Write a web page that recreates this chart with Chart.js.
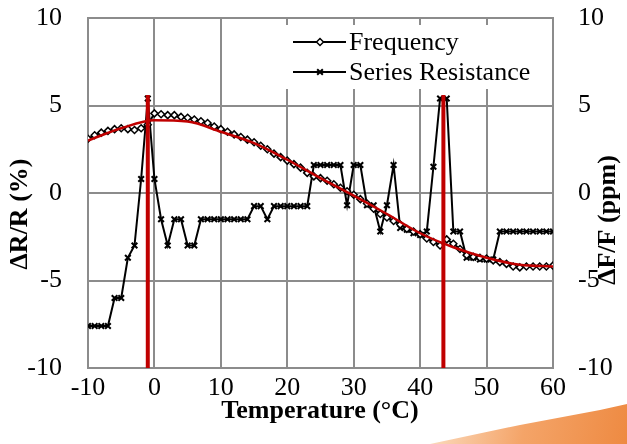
<!DOCTYPE html>
<html lang="en">
<head>
<meta charset="UTF-8">
<title>ΔR/R and ΔF/F vs Temperature</title>
<script src="https://cdn.jsdelivr.net/npm/chart.js"></script>
<style>
  html, body { margin: 0; padding: 0; background: #fff; }
  #wrap { position: relative; width: 627px; height: 444px; overflow: hidden; }
  #swoosh {
    position: absolute; left: 0; top: 0; width: 627px; height: 444px;
    background: linear-gradient(100deg, rgba(255,255,255,0) 66%, #fbd9bb 72%, #f4a468 85%, #ee8a42 100%);
    clip-path: polygon(430px 444px, 520px 425px, 600px 410px, 627px 404px, 627px 444px);
  }
  canvas { position: absolute; left: 0; top: 0; }
</style>
</head>
<body>
<div id="wrap">
  <div id="swoosh"></div>
  <canvas id="chart" width="627" height="444"></canvas>
</div>

<script>
// temperatures (°C) shared by both measured series
const temps = [-10, -9, -8, -7, -6, -5, -4, -3, -2, -1, 0, 1, 2, 3, 4, 5, 6, 7, 8, 9,
  10, 11, 12, 13, 14, 15, 16, 17, 18, 19, 20, 21, 22, 23, 24, 25, 26, 27, 28, 29,
  30, 31, 32, 33, 34, 35, 36, 37, 38, 39, 40, 41, 42, 43, 44, 45, 46, 47, 48, 49,
  50, 51, 52, 53, 54, 55, 56, 57, 58, 59, 60];

// ΔF/F (ppm), right axis
const frequency = [3.1, 3.3, 3.45, 3.55, 3.65, 3.7, 3.65, 3.6, 3.7, 3.9,
  4.55, 4.5, 4.45, 4.45, 4.35, 4.3, 4.2, 4.1, 4.0, 3.8,
  3.65, 3.5, 3.35, 3.2, 3.05, 2.9, 2.7, 2.5, 2.25, 2.05,
  1.85, 1.65, 1.45, 1.15, 0.95, 0.85, 0.7, 0.5, 0.3, 0.1,
  -0.1, -0.35, -0.6, -0.9, -1.2, -1.4, -1.6, -1.8, -2.05, -2.2,
  -2.35, -2.6, -2.8, -3.0, -2.65, -2.9, -3.2, -3.55, -3.65, -3.7,
  -3.75, -3.85, -3.95, -4.05, -4.2, -4.25, -4.2, -4.2, -4.2, -4.2, -4.15];

// ΔR/R (%), left axis
const resistance = [-7.6, -7.6, -7.6, -7.6, -6.0, -6.0, -3.7, -3.0, 0.8, 5.4,
  0.8, -1.5, -3.0, -1.5, -1.5, -3.0, -3.0, -1.5, -1.5, -1.5,
  -1.5, -1.5, -1.5, -1.5, -1.5, -0.75, -0.75, -1.5, -0.75, -0.75,
  -0.75, -0.75, -0.75, -0.75, 1.6, 1.6, 1.6, 1.6, 1.6, -0.7,
  1.6, 1.6, -0.7, -0.7, -2.2, -0.7, 1.6, -2.0, -2.1, -2.3,
  -2.4, -2.2, 1.5, 5.4, 5.4, -2.2, -2.2, -3.7, -3.7, -3.8,
  -3.8, -3.8, -2.2, -2.2, -2.2, -2.2, -2.2, -2.2, -2.2, -2.2, -2.2];

// red trend curve through the frequency data
const fitTemps = [-10, -5, 0, 5, 10, 15, 20, 25, 30, 35, 40, 45, 50, 55, 60];
const fitValues = [3.0, 3.7, 4.15, 4.08, 3.5, 2.85, 1.9, 0.85, -0.15, -1.2, -2.3, -3.1, -3.7, -4.1, -4.2];

// red vertical markers (temperature, top value)
const markerTemps = [-1, 43.5];
const markerTop = 5.6;
const markerBottom = -10;

const seriesNames = ['Frequency', 'Series Resistance'];
const xTitle = 'Temperature (°C)';
const yTitle = 'ΔR/R (%)';
const y2Title = 'ΔF/F (ppm)';

const gridGray = '#8c8c8c';
const red = '#c00000';
const serif = "'Liberation Serif', 'Times New Roman', serif";

Chart.defaults.font.family = serif;
Chart.defaults.font.size = 26;
Chart.defaults.color = '#000';

function pairs(xs, ys) {
  return xs.map((x, i) => ({ x: x, y: ys[i] }));
}

// legend box drawn inside the plot, top right
const insideLegend = {
  id: 'insideLegend',
  afterDraw(chart) {
    const ctx = chart.ctx;
    ctx.save();
    ctx.fillStyle = '#fff';
    ctx.fillRect(282, 25, 266, 64);
    const rows = [42, 72];
    rows.forEach((y, i) => {
      ctx.strokeStyle = '#000';
      ctx.lineWidth = 2;
      ctx.beginPath();
      ctx.moveTo(293, y);
      ctx.lineTo(346, y);
      ctx.stroke();
      const style = i === 0 ? 'rectRot' : 'crossRot';
      ctx.fillStyle = '#fff';
      ctx.lineWidth = i === 0 ? 1.5 : 2;
      Chart.helpers.drawPoint(ctx, { pointStyle: style, radius: i === 0 ? 3.5 : 4, borderWidth: ctx.lineWidth }, 320, y);
      ctx.fillStyle = '#000';
      ctx.font = '26px ' + serif;
      ctx.textBaseline = 'middle';
      ctx.textAlign = 'left';
      ctx.fillText(seriesNames[i], 349, y + 1);
    });
    ctx.restore();
  }
};

// axis titles, both vertical ones read bottom to top
const axisTitles = {
  id: 'axisTitles',
  afterDraw(chart) {
    const ctx = chart.ctx;
    ctx.save();
    ctx.fillStyle = '#000';
    ctx.font = 'bold 26px ' + serif;
    ctx.textAlign = 'center';
    ctx.textBaseline = 'middle';
    ctx.fillText(xTitle, 320, 411);

    ctx.save();
    ctx.translate(20, 214);
    ctx.rotate(-Math.PI / 2);
    ctx.fillText(yTitle, 0, 0);
    ctx.restore();

    ctx.save();
    ctx.translate(608, 220);
    ctx.rotate(-Math.PI / 2);
    ctx.fillText(y2Title, 0, 0);
    ctx.restore();
    ctx.restore();
  }
};

const markerSets = markerTemps.map(t => ({
  label: 'marker',
  data: [{ x: t, y: markerBottom }, { x: t, y: markerTop }],
  yAxisID: 'y',
  borderColor: red,
  borderWidth: 4,
  pointRadius: 0
}));

// fixed axis sizes so the plot area sits where the reference has it
function fixSize(prop, value) {
  return s => {
    s[prop] = value;
    s.paddingTop = 0;
    s.paddingBottom = 0;
    s.paddingLeft = 0;
    s.paddingRight = 0;
  };
}

new Chart(document.getElementById('chart'), {
  type: 'line',
  data: {
    datasets: [
      ...markerSets,
      {
        label: 'fit',
        data: pairs(fitTemps, fitValues),
        yAxisID: 'y2',
        borderColor: red,
        borderWidth: 2.5,
        pointRadius: 0,
        cubicInterpolationMode: 'monotone'
      },
      {
        label: seriesNames[0],
        data: pairs(temps, frequency),
        yAxisID: 'y2',
        borderColor: '#000',
        borderWidth: 2,
        pointStyle: 'rectRot',
        pointRadius: 3.5,
        pointBackgroundColor: '#fff',
        pointBorderColor: '#000',
        pointBorderWidth: 1.5
      },
      {
        label: seriesNames[1],
        data: pairs(temps, resistance),
        yAxisID: 'y',
        borderColor: '#000',
        borderWidth: 2,
        pointStyle: 'crossRot',
        pointRadius: 4,
        pointBorderColor: '#000',
        pointBorderWidth: 2
      }
    ]
  },
  options: {
    responsive: false,
    animation: false,
    layout: { padding: { top: 18, left: 0, right: 0, bottom: 0 } },
    plugins: {
      legend: { display: false },
      tooltip: { enabled: false }
    },
    scales: {
      x: {
        type: 'linear',
        min: -10,
        max: 60,
        ticks: { stepSize: 10, padding: 5, maxRotation: 0 },
        grid: { color: gridGray, lineWidth: 2, drawTicks: false },
        border: { color: gridGray, width: 2 },
        afterFit: fixSize('height', 76)
      },
      y: {
        position: 'left',
        min: -10,
        max: 10,
        ticks: { stepSize: 5, padding: 26 },
        grid: { color: gridGray, lineWidth: 2, drawTicks: false },
        border: { color: gridGray, width: 2 },
        afterFit: fixSize('width', 88)
      },
      y2: {
        position: 'right',
        min: -10,
        max: 10,
        ticks: { stepSize: 5, padding: 25 },
        grid: { drawOnChartArea: false, drawTicks: false },
        border: { color: gridGray, width: 2 },
        afterFit: fixSize('width', 74)
      }
    }
  },
  plugins: [insideLegend, axisTitles]
});
</script>
</body>
</html>
